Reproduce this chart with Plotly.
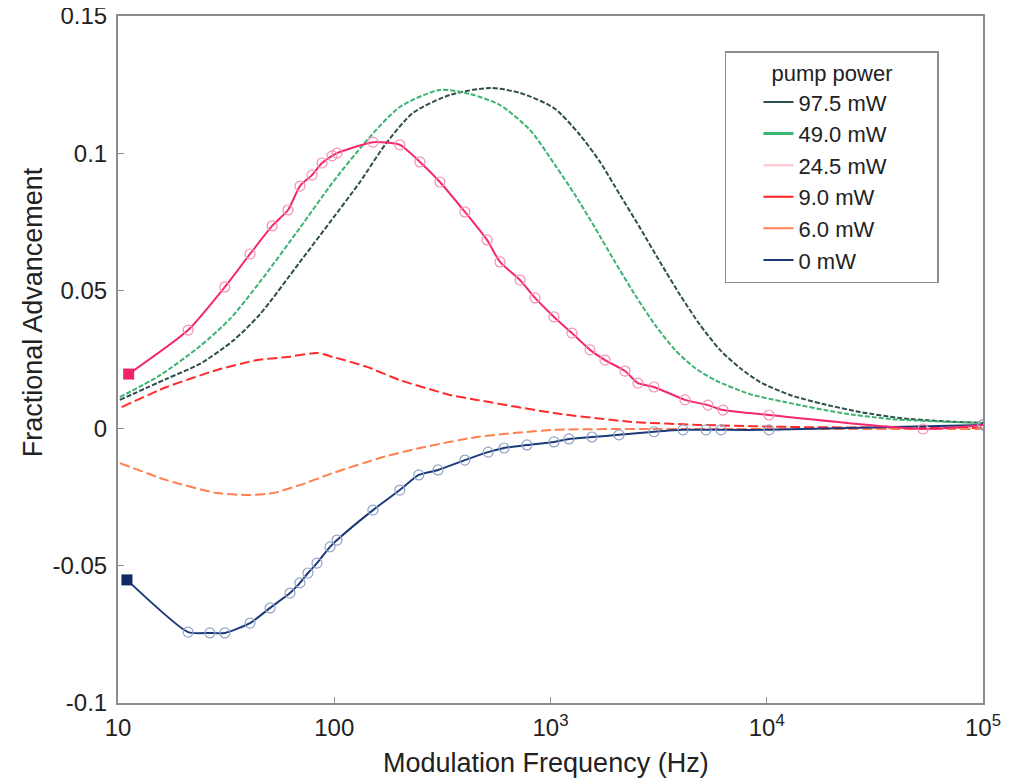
import plotly.graph_objects as go

# ---------------- data ----------------
f_975 = [10.2, 16.8, 23.9, 34.0, 45.4, 69.4, 95.6, 131.5, 171.7, 231, 343, 525, 723, 1038, 1369,
         1694, 2096, 2594, 3210, 3972, 4913, 6077, 7519, 9307, 12810, 18200, 26990, 41320, 63290, 100000]
v_975 = [0.0103, 0.0180, 0.0234, 0.0318, 0.0415, 0.0605, 0.0750, 0.0896, 0.1031, 0.1147, 0.1213,
         0.1238, 0.1220, 0.1165, 0.1067, 0.0969, 0.0849, 0.0729, 0.0605, 0.0485, 0.0376, 0.0285,
         0.0219, 0.0168, 0.0121, 0.0088, 0.0059, 0.0037, 0.0026, 0.0019]

f_490 = [10.2, 15.6, 23.9, 33.0, 45.4, 69.4, 98.7, 142, 201, 308, 424, 584, 804, 1049, 1298, 1607,
         1988, 2460, 3043, 3765, 4658, 5764, 8366, 12150, 22280, 37950, 100000]
v_490 = [0.0113, 0.0192, 0.0298, 0.0398, 0.0533, 0.0729, 0.0896, 0.1049, 0.1169, 0.1231, 0.1216,
         0.1176, 0.1085, 0.0958, 0.0849, 0.0729, 0.0605, 0.0485, 0.0376, 0.0285, 0.0219, 0.0175,
         0.0124, 0.0095, 0.0055, 0.0033, 0.0019]

# 24.5 mW: measured points (circles) and first (filled) point
f_245 = [21.1, 31.2, 40.8, 51.6, 61.1, 69.4, 78.9, 87.8, 97.7, 103, 151, 201, 249, 308, 402, 509,
         584, 723, 848, 1038, 1257, 1523, 1787, 2211, 2539, 3010, 4188, 5350, 6276, 10240, 52800, 100000]
v_245 = [0.0357, 0.0514, 0.0634, 0.0736, 0.0794, 0.0881, 0.0921, 0.0965, 0.0991, 0.1001, 0.1041,
         0.1031, 0.0969, 0.0896, 0.0787, 0.0685, 0.0605, 0.0539, 0.0474, 0.0405, 0.0346, 0.0285,
         0.0248, 0.0208, 0.0164, 0.0150, 0.0103, 0.0084, 0.0066, 0.0048, -0.0003, 0.0012]
f_245_first = [11.2]
v_245_first = [0.0197]

f_090 = [10.4, 16.8, 28.7, 43.9, 60.4, 83.2, 98.7, 142, 201, 343, 457, 1038, 2357, 4913, 14250, 100000]
v_090 = [0.0077, 0.0150, 0.0212, 0.0248, 0.0259, 0.0274, 0.0259, 0.0223, 0.0175, 0.0121, 0.0103,
         0.0055, 0.0023, 0.0012, 0.0004, 0.0001]

f_060 = [10.2, 16.8, 28.7, 40.8, 52.1, 69.4, 98.7, 168, 249, 457, 1038, 2885, 14250, 100000]
v_060 = [-0.0127, -0.0189, -0.0236, -0.0243, -0.0236, -0.0207, -0.0163, -0.0105, -0.0072, -0.0032,
         -0.0006, -0.0003, -0.0003, -0.0003]

# 0 mW: measured points (circles) and first (filled) point
f_000 = [21.1, 26.6, 31.2, 40.8, 50.5, 62.4, 69.4, 75.6, 83.2, 95.6, 103, 151, 201, 246, 302, 402,
         515, 610, 778, 1038, 1217, 1556, 2074, 3010, 4100, 5237, 6143, 10240, 100000]
v_000 = [-0.0742, -0.0745, -0.0745, -0.0709, -0.0654, -0.0600, -0.0563, -0.0527, -0.0491, -0.0432,
         -0.0407, -0.0298, -0.0225, -0.0170, -0.0152, -0.0116, -0.0087, -0.0072, -0.0061, -0.0050,
         -0.0039, -0.0032, -0.0024, -0.0013, -0.0006, -0.0006, -0.0006, -0.0006, 0.0012]
f_000_first = [11.0]
v_000_first = [-0.0552]

series_names = ["97.5 mW", "49.0 mW", "24.5 mW", "9.0 mW", "6.0 mW", "0 mW"]
legend_colors = ["#2f4f4f", "#3cb371", "#ffc0cb", "#ff2020", "#ff7f50", "#1c3a7a"]

x_tickvals = [10, 100, 1000, 10000, 100000]
x_ticktext = ["10", "100", "10<sup>3</sup>", "10<sup>4</sup>", "10<sup>5</sup>"]
y_tickvals = [-0.1, -0.05, 0, 0.05, 0.1, 0.15]
y_ticktext = ["-0.1", "-0.05", "0", "0.05", "0.1", "0.15"]

# ---------------- figure ----------------
FONT = "Liberation Sans, Arial, Helvetica, sans-serif"
TXT = "#222222"
fig = go.Figure()

# plotted curves (legend entries are separate solid-line traces below)
fig.add_trace(go.Scatter(x=f_975, y=v_975, mode="lines", showlegend=False,
                         line=dict(color="#2f4f4f", width=2, dash="5px,2px", shape="spline", smoothing=0.7)))
fig.add_trace(go.Scatter(x=f_490, y=v_490, mode="lines", showlegend=False,
                         line=dict(color="#3cb371", width=2, dash="5px,2px", shape="spline", smoothing=0.7)))
fig.add_trace(go.Scatter(x=f_090, y=v_090, mode="lines", showlegend=False,
                         line=dict(color="#ff2b2b", width=2, dash="10px,4px", shape="spline", smoothing=0.5)))
fig.add_trace(go.Scatter(x=f_060, y=v_060, mode="lines", showlegend=False,
                         line=dict(color="#ff7f50", width=2, dash="10px,4px", shape="spline", smoothing=0.6)))
fig.add_trace(go.Scatter(x=f_000_first + f_000, y=v_000_first + v_000, mode="lines", showlegend=False,
                         line=dict(color="#1c3a7a", width=2, shape="spline", smoothing=0.6)))
fig.add_trace(go.Scatter(x=f_245_first + f_245, y=v_245_first + v_245, mode="lines", showlegend=False,
                         line=dict(color="#f5286e", width=2, shape="spline", smoothing=0.6)))
fig.add_trace(go.Scatter(x=f_245, y=v_245, mode="markers", showlegend=False,
                         marker=dict(symbol="circle-open", size=10, color="#f590b4", line=dict(width=1.2))))
fig.add_trace(go.Scatter(x=f_000, y=v_000, mode="markers", showlegend=False,
                         marker=dict(symbol="circle-open", size=10, color="#8fa3c8", line=dict(width=1.2))))
fig.add_trace(go.Scatter(x=f_245_first, y=v_245_first, mode="markers", showlegend=False,
                         marker=dict(symbol="square", size=11, color="#f0226a")))
fig.add_trace(go.Scatter(x=f_000_first, y=v_000_first, mode="markers", showlegend=False,
                         marker=dict(symbol="square", size=11, color="#0f2a66")))

# legend entries
for nm, col in zip(series_names, legend_colors):
    fig.add_trace(go.Scatter(x=[None], y=[None], mode="lines", name=nm,
                             line=dict(color=col, width=3 if col == "#3cb371" else 2)))

axis_common = dict(showgrid=False, zeroline=False, showline=True, linecolor="#8c8c8c", linewidth=2,
                   mirror=True, ticks="inside", ticklen=6, tickcolor="#8c8c8c", tickwidth=1,
                   automargin=False, ticklabeloverflow="allow",
                   tickfont=dict(family=FONT, size=24, color=TXT))

NB = "\u00a0"
fig.update_layout(
    # the page body adds an 8px offset; the figure is sized so the plot area sits at x 118-983, y 16-703
    width=1002, height=771,
    margin=dict(l=110, r=27, t=8, b=76),
    paper_bgcolor="white", plot_bgcolor="white",
    font=dict(family=FONT, size=24, color=TXT),
    xaxis=dict(type="log", range=[1, 5], tickvals=x_tickvals, ticktext=x_ticktext,
               ticklabelstandoff=2, **axis_common),
    yaxis=dict(range=[-0.1, 0.15], tickvals=y_tickvals, ticktext=y_ticktext,
               ticklabelstandoff=4, **axis_common),
    legend=dict(x=0.7017, y=0.949, xanchor="left", yanchor="top",
                bgcolor="white", bordercolor="#8c8c8c", borderwidth=1.5,
                font=dict(family=FONT, size=22, color=TXT),
                title=dict(text=NB * 7 + "pump power" + NB * 7, side="top center",
                           font=dict(family=FONT, size=22, color=TXT)),
                tracegroupgap=0, indentation=32, itemwidth=30),
    annotations=[
        dict(text="Fractional Advancement", xref="paper", yref="paper", x=-0.098, y=0.569,
             textangle=-90, showarrow=False, font=dict(family=FONT, size=27, color=TXT),
             xanchor="center", yanchor="middle"),
        dict(text="Modulation Frequency (Hz)", xref="paper", yref="paper", x=0.4947, y=-0.0875,
             showarrow=False, font=dict(family=FONT, size=27, color=TXT),
             xanchor="center", yanchor="middle"),
    ],
)

fig.write_html("out.html")
